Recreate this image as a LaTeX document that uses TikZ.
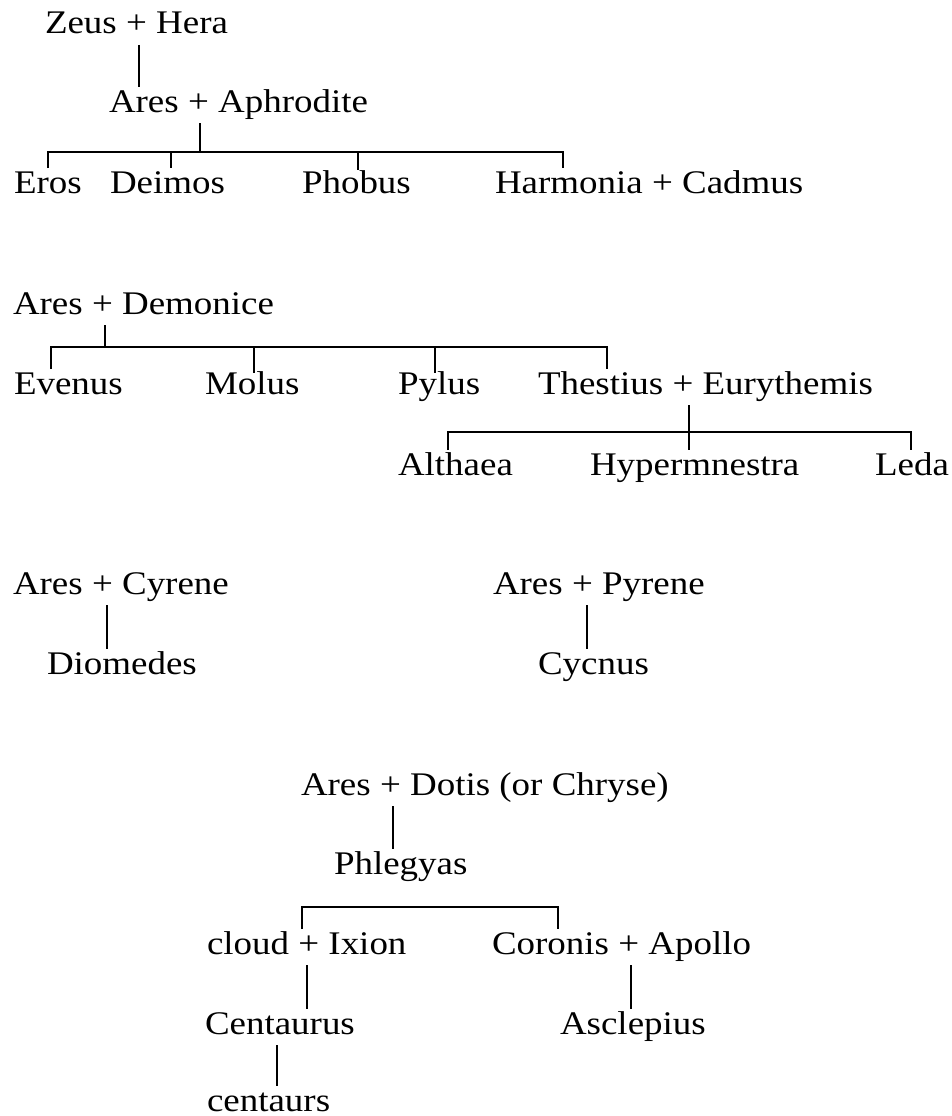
\documentclass[tikz,border=0pt]{standalone}
\usepackage{fontspec}
\setmainfont{Liberation Serif}[FakeStretch=1.12]
\begin{document}
\begin{tikzpicture}[x=1pt,y=-1pt,
  lbl/.style={inner sep=0pt, outer xsep=0pt, outer ysep=3pt, text height=22pt, text depth=8pt, anchor=base west, font=\fontsize{33}{40}\selectfont},
  link/.style={line width=1.3pt, black}]
\fill[white] (0,0) rectangle (951,1116);
\useasboundingbox (0,0) rectangle (951,1116);

% nodes
\node[lbl] (zh) at (45,34) {Zeus + Hera};
\node[lbl] (aa) at (109,112) {Ares + Aphrodite};
\node[lbl] (er) at (14,193) {Eros};
\node[lbl] (de) at (110,193) {Deimos};
\node[lbl] (ph) at (302,193) {Phobus};
\node[lbl] (hc) at (495,193) {Harmonia + Cadmus};

\node[lbl] (ad) at (13,314) {Ares + Demonice};
\node[lbl] (ev) at (14,394) {Evenus};
\node[lbl] (mo) at (205,394) {Molus};
\node[lbl] (py) at (398,394) {Pylus};
\node[lbl] (te) at (538,394) {Thestius + Eurythemis};
\node[lbl] (al) at (398,475) {Althaea};
\node[lbl] (hy) at (590,475) {Hypermnestra};
\node[lbl, anchor=base east] (le) at (949,475) {Leda};

\node[lbl] (ac) at (13,594) {Ares + Cyrene};
\node[lbl] (di) at (47,674) {Diomedes};
\node[lbl] (ap) at (493,594) {Ares + Pyrene};
\node[lbl] (cy) at (538,674) {Cycnus};

\node[lbl] (ado) at (301,795) {Ares + Dotis (or Chryse)};
\node[lbl] (phl) at (334,874) {Phlegyas};
\node[lbl] (ci) at (207,954) {cloud + Ixion};
\node[lbl] (ca) at (492,954) {Coronis + Apollo};
\node[lbl] (ce) at (205,1034) {Centaurus};
\node[lbl] (as) at (560,1034) {Asclepius};
\node[lbl, text depth=0pt, outer ysep=0pt, text height=25pt] (cs) at (207,1111) {centaurs};

% junction coordinates
\coordinate (x1) at (139,0);
\coordinate (j1) at (200,152);
\coordinate (d11) at (48,152);
\coordinate (d12) at (171,152);
\coordinate (d13) at (358,152);
\coordinate (d14) at (563,152);

\coordinate (j2) at (105,347);
\coordinate (d21) at (51,347);
\coordinate (d22) at (254,347);
\coordinate (d23) at (435,347);
\coordinate (d24) at (607,347);

\coordinate (x3) at (689,432);
\coordinate (d31) at (448,432);
\coordinate (d32) at (911,432);

\coordinate (x4) at (107,0);
\coordinate (x5) at (587,0);
\coordinate (x6) at (393,0);
\coordinate (d51) at (302,907);
\coordinate (d52) at (558,907);
\coordinate (x7) at (307,0);
\coordinate (x8) at (277,0);
\coordinate (x9) at (631,0);

% connectors
\draw[link] (zh.south -| x1) -- (aa.north -| x1);
\draw[link] (aa.south -| j1) -- (j1);
\draw[link] (er.north -| d11) -- (d11) -- (d14) -- (hc.north -| d14);
\draw[link] (d12) -- (de.north -| d12);
\draw[link] (d13) -- ([yshift=-2pt]ph.north -| d13);

\draw[link] (ad.south -| j2) -- (j2);
\draw[link] (ev.north -| d21) -- (d21) -- (d24) -- (te.north -| d24);
\draw[link] (d22) -- ([yshift=-4pt]mo.north -| d22);
\draw[link] (d23) -- ([yshift=-4pt]py.north -| d23);

\draw[link] (te.south -| x3) -- (hy.north -| x3);
\draw[link] (al.north -| d31) -- (d31) -- (d32) -- (le.north -| d32);

\draw[link] (ac.south -| x4) -- (di.north -| x4);
\draw[link] (ap.south -| x5) -- (cy.north -| x5);

\draw[link] (ado.south -| x6) -- (phl.north -| x6);
\draw[link] (ci.north -| d51) -- (d51) -- (d52) -- (ca.north -| d52);
\draw[link] (ci.south -| x7) -- (ce.north -| x7);
\draw[link] (ce.south -| x8) -- (cs.north -| x8);
\draw[link] (ca.south -| x9) -- (as.north -| x9);
\end{tikzpicture}
\end{document}
